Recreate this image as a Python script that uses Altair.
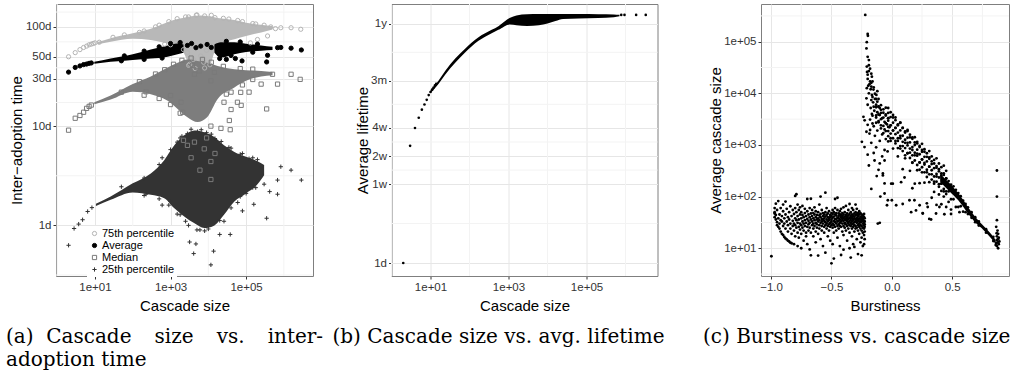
import altair as alt
import pandas as pd

FONT = "Liberation Sans"
SERIF = "DejaVu Serif"
NB = "\u00a0"
TH = "\u2009"
ZW = "\u200b"

# ---------------- (a) Cascade size vs. inter-adoption time ----------------
A_SERIES = ["75th percentile", "Average", "Median", "25th percentile"]
A_STROKES = ["#b4b4b4", "#000000", "#7a7a7a", "#333333"]
A_FILLS = ["transparent", "#000000", "transparent", "transparent"]
A_SHAPES = ["circle", "circle", "square", "M-1,0H1M0,-1V1"]
A_CORE_COLORS = {"75th percentile": "#b8b8b8", "Average": "#000000",
                 "Median": "#7d7d7d", "25th percentile": "#333333"}
A_X_TICKS = [10, 1000, 100000]
A_X_MINOR = [1, 100, 10000, 1000000]
A_Y_TICKS = [1, 10, 30, 50, 100]
A_Y_MINOR = [0.316, 3.16, 17.3, 38.7, 70.7, 141]
A_X_DOM = [0.93, 5.9e6]
A_Y_DOM = [0.309, 170]

# dense cores: cascade size, lower / upper inter-adoption time (days)
P75_CORE_X = [11.8, 26, 100, 300, 680, 1260, 2100, 3500, 6300, 10500, 17700, 49000, 100000, 250000, 500000]
P75_CORE_LO = [67, 71, 76, 73.6, 69, 65, 57, 39, 37, 40, 66, 75, 81, 88, 94]
P75_CORE_HI = [70.3, 77, 86, 95.5, 108, 118, 123, 128, 130, 128, 123, 117, 110, 105, 102]

MED_CORE_X = [9.6, 26, 100, 300, 840, 1540, 2800, 5200, 9300, 17700, 49000, 100000, 250000, 500000]
MED_CORE_LO = [16.6, 18.5, 22.2, 21, 18, 14.9, 12.3, 11, 12.3, 18.8, 24.5, 28.6, 31.6, 32.6]
MED_CORE_HI = [17.4, 20.3, 26.5, 31.6, 38.9, 43.6, 47, 45.4, 43.6, 40.4, 37.4, 36.6, 36, 35.2]

AVG_CORE_X = [9.6, 26, 100, 300, 840, 1540, 2200, 14500, 21600, 49000, 100000, 250000, 500000]
AVG_CORE_LO = [42.4, 44.4, 46.4, 47.9, 50, 53, 55, 55, 49, 53, 55.8, 57.6, 58.5]
AVG_CORE_HI = [44.4, 47.9, 52.9, 59.3, 65, 68, 66.6, 66.6, 70, 70, 67.6, 65, 63]
AVG_CORE_SEG = [0, 0, 0, 0, 0, 0, 0, 1, 1, 1, 1, 1, 1]

P25_CORE_X = [10.6, 26, 100, 300, 680, 1260, 2300, 4300, 7800, 14500, 26000, 49000, 100000, 200000, 300000]
P25_CORE_LO = [1.57, 1.81, 2.15, 2.03, 1.88, 1.49, 1.23, 1.05, 0.94, 1.0, 1.28, 1.74, 2.1, 2.6, 3.2]
P25_CORE_HI = [1.65, 1.95, 2.65, 3.34, 4.54, 6.4, 8.07, 9.05, 8.7, 7.76, 6.4, 5.5, 4.9, 4.43, 4.05]

# individual points (cascade size, days)
P75_PTS = [(2, 50), (3, 55), (4, 59), (5, 62), (6, 64), (7, 66), (8, 67), (9, 68), (10, 69), (13, 70),
           (830000, 98), (1550000, 98), (2800000, 94.6), (370000, 81), (200000, 74.6), (130000, 69),
           (600000, 96), (450000, 100), (2200, 59), (2800, 55), (6300, 51), (4000, 47), (7500, 44),
           (9000, 58), (3200, 42), (5600, 62), (4800, 131), (8000, 129), (3000, 126), (15000, 124),
           (60000, 116), (150000, 108),
           (30, 78.5), (60, 83), (150, 88), (200, 91), (400, 100), (500, 104), (900, 113), (1500, 121),
           (2500, 126), (5000, 132), (12000, 131), (25000, 122), (35000, 120), (80000, 113),
           (180000, 107), (300000, 104), (700, 67), (1000, 66), (4500, 38), (8000, 38.5), (3000, 41),
           (11000, 41.5)]
AVG_PTS = [(2, 35), (3, 39), (4, 40.4), (5, 41.7), (6, 42.2), (7, 42.9), (8, 43.3),
           (350000, 44.3), (370000, 51.7), (78000, 45.4), (680000, 61.7), (830000, 62), (1550000, 61),
           (2900000, 58.5), (6300, 64), (9300, 66.5), (4700, 61.7), (2800, 65), (12000, 62), (3600, 68),
           (52000, 48), (30000, 47),
           (60, 51), (200, 57), (500, 63), (1000, 68), (1800, 69.5), (30000, 71.5), (70000, 70.5),
           (200000, 67), (50, 45.5), (200, 47), (600, 48.5), (20000, 48), (40000, 51.5), (150000, 55.5)]
MED_PTS = [(2, 9.1), (3, 12), (4, 12.8), (5, 13.8), (6, 15.1), (7, 15.8), (8, 16.3),
           (500000, 33.3), (1550000, 33.3), (2700000, 29.6), (680000, 26.5), (350000, 14.9), (250000, 26.5),
           (74000, 16.2), (40000, 22), (120000, 22), (36000, 11.4), (14500, 34.8), (4300, 33.3), (5700, 36),
           (11700, 28.6), (26000, 17.4), (38000, 9.2), (11700, 10), (21600, 9.5), (3800, 41), (225, 22.2),
           (1000, 20.3), (1900, 17.4), (2100, 13.8), (59000, 17.4), (40000, 14.7), (72000, 21.9),
           (50, 22), (150, 28), (400, 33.5), (700, 37), (1200, 42), (2000, 46), (3500, 48.5), (7000, 47),
           (12000, 44), (25000, 40), (70000, 38), (150000, 37.5), (200, 20.5), (500, 19), (1000, 16.5),
           (1800, 13.5), (30000, 21), (80000, 26), (150000, 29.5)]
P25_PTS = [(2, 0.63), (2.8, 0.93), (3.7, 1.03), (4.7, 1.14), (6.4, 1.38), (8.3, 1.51),
           (1550000, 3.6), (2900000, 2.86), (830000, 3.9), (680000, 2.86), (420000, 2.19), (680000, 2.06),
           (350000, 1.18), (160000, 1.63), (80000, 1.4), (38000, 0.81), (20000, 0.81), (13800, 0.55),
           (11700, 0.40), (4100, 0.52), (3200, 0.68), (4700, 0.65), (225, 2.06), (1000, 1.74),
           (2800, 8.4), (5200, 8.8), (9000, 8.6), (2000, 7.9), (15000, 7.5), (40000, 6.0), (70000, 5.2),
           (120000, 4.7), (200000, 4.6), (250000, 3.9), (100000, 2.1), (60000, 1.7), (180000, 2.4),
           (300000, 2.6), (26000, 1.1), (8000, 0.88), (5000, 0.9), (2500, 1.1), (1500, 1.3), (600, 1.6),
           (600, 4.8), (1500, 6.9),
           (50, 2.45), (200, 3.0), (500, 4.1), (1000, 5.8), (1800, 7.6), (3500, 9.3), (6500, 9.2),
           (12000, 8.3), (22000, 7.0), (35000, 6.1), (80000, 5.3), (150000, 4.8), (200, 2.0), (500, 1.85),
           (900, 1.6), (1800, 1.28), (3000, 1.0), (6000, 0.9), (10000, 0.92), (20000, 1.12), (40000, 1.5),
           (70000, 1.95), (150000, 2.4)]
MED_IN_CLOUD = [(4300, 6.9), (11700, 4.4), (11700, 2.9), (7800, 5.9), (2800, 6.4), (2200, 7.2),
                (6000, 3.6), (3500, 4.8), (9000, 7.6), (15000, 5.3)]

# ---------------- (b) Cascade size vs. avg. lifetime ----------------
B_PTS = [(2, 1), (3, 18), (4, 28), (5, 36), (6, 44), (7, 50), (8, 56), (9, 63), (10, 68), (11, 72),
         (12, 76), (13, 80), (14, 83), (776000, 455), (940000, 455), (1870000, 455), (3300000, 455)]
B_CORE_X = [10, 16, 24, 43, 77, 170, 370, 550, 1100, 1600, 3000, 6000, 10000, 16000, 25000, 63000,
            200000, 500000, 700000]
B_CORE_LO = [66, 83, 105, 140, 180, 240, 290, 315, 360, 352, 347, 352, 368, 392, 412, 418, 422, 430, 440]
B_CORE_HI = [71, 90, 115, 155, 198, 262, 315, 345, 425, 450, 462, 465, 465, 465, 465, 465, 463, 460, 456]
B_X_TICKS = [10, 1000, 100000]
B_X_MINOR = [1, 100, 10000, 1000000]
B_Y_TICKS = [1, 7, 14, 28, 90, 365]
B_Y_MINOR = [2.65, 9.9, 19.8, 50.2, 181]
B_X_DOM = [1, 6.6e6]
B_Y_DOM = [0.726, 596]

# ---------------- (c) Burstiness vs. cascade size ----------------
C_LEFT_COLS = [
    (-0.997, [7]), (-0.97, [60, 47, 40, 50]), (-0.96, [73, 36, 44]), (-0.95, [32, 55, 28]),
    (-0.94, [26, 38, 82]), (-0.93, [24, 45, 30]), (-0.92, [21, 60, 35]), (-0.91, [19, 33, 42]),
    (-0.90, [18, 27, 52, 70]), (-0.89, [16.5, 38, 30]), (-0.88, [15.5, 24, 45, 80]),
    (-0.87, [14.8, 33, 58]), (-0.86, [14, 28, 40, 21]), (-0.85, [13.5, 50, 36]),
    (-0.84, [12.8, 30, 24, 65]), (-0.83, [12.5, 42, 19]), (-0.82, [34, 27, 55]),
    (-0.81, [12, 22, 46, 30]), (-0.80, [103, 38, 17, 60, 28]), (-0.79, [111, 25, 50, 35]),
    (-0.78, [11, 31, 70, 20, 42]), (-0.77, [26, 55, 36, 16]), (-0.76, [45, 30, 23, 62]),
    (-0.75, [10, 38, 28, 50, 19]), (-0.74, [33, 66, 25, 44]), (-0.73, [14, 40, 30, 22]),
    (-0.72, [48, 35, 27, 58]), (-0.71, [20, 31, 42, 17]), (-0.70, [12, 37, 52, 26, 90]),
    (-0.69, [45, 29, 34, 22]), (-0.68, [9.5, 40, 60, 25, 31]), (-0.67, [91, 7.3, 36, 47, 20]),
    (-0.66, [28, 42, 33, 55]), (-0.65, [17, 38, 24, 30, 48]), (-0.64, [45, 27, 35, 62]),
    (-0.63, [21, 40, 31, 52, 13]), (-0.62, [29, 36, 44, 25]), (-0.61, [7.2, 33, 50, 38, 19]),
    (-0.60, [43, 28, 35, 70, 24]), (-0.59, [100, 31, 40, 46, 15]), (-0.58, [27, 37, 55, 22, 33]),
    (-0.57, [11, 42, 30, 36, 48]), (-0.56, [26, 38, 45, 20, 34]), (-0.55, [8.2, 119, 32, 41, 50, 28]),
    (-0.54, [24, 36, 44, 30, 60]), (-0.53, [17, 40, 33, 27, 47]), (-0.52, [38, 29, 52, 22, 35]),
    (-0.51, [31, 44, 26, 40, 14]), (-0.50, [5.1, 36, 48, 28, 42, 33]), (-0.49, [12, 39, 25, 46, 30, 55]),
    (-0.48, [6.3, 34, 41, 28, 20, 50]), (-0.47, [37, 45, 32, 26, 90, 60]), (-0.46, [30, 43, 36, 22, 48]),
    (-0.45, [95, 39, 27, 33, 55, 16]), (-0.44, [34, 42, 29, 47, 24, 38]), (-0.43, [11, 36, 31, 45, 27, 52]),
    (-0.42, [7.4, 40, 33, 26, 44, 58]), (-0.41, [30, 38, 48, 21, 35, 42]),
    (-0.40, [9.4, 34, 27, 45, 39, 62, 18]), (-0.39, [41, 31, 36, 25, 50, 30]),
    (-0.38, [29, 44, 35, 22, 38, 66]), (-0.37, [14, 33, 40, 27, 47, 36]),
    (-0.36, [37, 30, 43, 24, 55, 32]), (-0.35, [10, 39, 28, 46, 34, 20, 72]),
    (-0.34, [6.6, 35, 42, 27, 31, 50, 38]), (-0.33, [33, 40, 24, 45, 29, 60, 17]),
    (-0.32, [12, 37, 30, 43, 26, 35, 55]), (-0.31, [10.6, 32, 41, 28, 47, 21, 38]),
    (-0.30, [36, 27, 44, 33, 50, 24, 70]), (-0.29, [15, 31, 39, 25, 45, 35, 58]),
    (-0.28, [7.7, 34, 42, 28, 22, 48, 37]), (-0.27, [30, 38, 26, 45, 33, 19, 52]),
    (-0.26, [13, 36, 28, 41, 24, 48, 32]), (-0.25, [7.3, 33, 40, 27, 22, 45, 36, 16]),
    (-0.24, [30, 38, 25, 43, 20, 35, 11]), (-0.23, [12, 34, 28, 40, 24, 31, 46, 18]),
    (-0.225, [26, 33, 21, 38, 15, 29]),
]
# dense diagonal band, read column by column (burstiness, cascade sizes)
C_BAND_COLS = [
    (-0.13, [7760, 5370, 3720, 2690]), (-0.11, [5500, 3890, 2750, 7760]),
    (-0.09, [5890, 4170, 3160, 2090]), (-0.07, [4900, 3390, 2340, 1700]),
    (-0.05, [3720, 2630, 1860, 5250]), (-0.03, [4170, 2950, 2240, 1480]),
    (-0.01, [3470, 2400, 1660, 1200]), (0.01, [2690, 1910, 1350, 3800]),
    (0.03, [3020, 2140, 1620, 1070]), (0.05, [2510, 1740, 1200, 870]),
    (0.07, [1910, 1350, 950, 2690]), (0.09, [2140, 1510, 1150, 760]),
    (0.11, [1820, 1260, 870, 630]), (0.13, [1380, 980, 690, 1950]),
    (0.15, [1580, 1120, 850, 560]), (0.17, [1320, 910, 630, 457]),
    (0.19, [1000, 710, 500, 1410]), (0.21, [1150, 810, 620, 410]),
    (0.23, [955, 660, 457, 331]), (0.25, [740, 525, 370, 1050]),
    (0.27, [830, 590, 447, 295]), (0.29, [690, 480, 331, 240]),
    (0.31, [540, 380, 270, 760]), (0.33, [600, 427, 324, 214]),
    (0.35, [513, 355, 245, 178]), (0.37, [390, 275, 195, 550]),
    (0.39, [437, 309, 234, 155]), (0.41, [372, 257, 178, 129]),
    (0.43, [282, 200, 141, 398]), (0.45, [316, 224, 170, 112]),
]
C_RIGHT_PTS = [
    (-0.22, 330000), (-0.20, 141000), (-0.198, 130000), (-0.207, 98000), (-0.21, 74000), (-0.2, 51000),
    (-0.19, 44000), (-0.19, 35000), (-0.207, 33000), (-0.18, 30000), (-0.205, 26000), (-0.17, 24000),
    (-0.2, 19000), (-0.165, 21000), (-0.18, 17000), (-0.16, 17000), (-0.207, 12600), (-0.17, 13500),
    (-0.152, 11800), (-0.19, 10000), (-0.165, 9300), (-0.128, 9300), (-0.21, 8000), (-0.17, 7400),
    (-0.12, 6900), (-0.2, 6000), (-0.15, 5500), (-0.1, 5200), (-0.235, 3500), (-0.225, 3000),
    (-0.2, 2450), (-0.21, 1800), (-0.18, 1950), (-0.16, 2600), (-0.248, 1150), (-0.226, 910),
    (-0.185, 1660), (-0.143, 500), (-0.1, 440), (-0.17, 141), (-0.074, 280), (-0.005, 178), (0.0, 85),
    (-0.04, 68), (-0.1, 31), (0.077, 190), (0.146, 85), (0.256, 47), (0.2, 54), (0.31, 37),
    (-0.19, 27000), (-0.2, 23000), (-0.185, 15000), (-0.175, 12000), (-0.195, 14000), (-0.16, 8500),
    (-0.14, 7800), (-0.155, 6700), (-0.13, 6000), (-0.175, 5200), (-0.11, 5600), (-0.145, 4600),
    (-0.12, 4300), (-0.09, 4800), (-0.165, 4000), (-0.1, 3800), (-0.07, 4200), (-0.13, 3400),
    (-0.08, 3300), (-0.05, 3900), (-0.18, 3100), (-0.11, 2900), (-0.06, 2800), (-0.03, 3300),
    (-0.15, 2300), (-0.09, 2400), (-0.04, 2500), (-0.12, 1900), (-0.06, 2000), (-0.02, 2200),
    (-0.14, 1500), (-0.08, 1600), (-0.1, 1200), (-0.05, 1300), (-0.17, 1100), (-0.13, 900),
    (-0.06, 800), (-0.2, 650), (-0.15, 700), (-0.11, 330), (-0.08, 600), (-0.035, 750), (-0.125, 250),
    (-0.06, 180), (-0.095, 100), (-0.19, 400), (-0.16, 3700), (-0.14, 9800), (-0.12, 11000),
    (-0.17, 16000), (-0.15, 13000),
    (-0.03, 5200), (-0.03, 3300), (-0.03, 1860), (-0.03, 1170), (-0.01, 4300), (-0.01, 2400),
    (-0.01, 1350), (0.01, 3400), (0.01, 1900), (0.01, 850), (0.03, 3400), (0.03, 2140), (0.03, 1200),
    (0.05, 2400), (0.05, 1350), (0.05, 600), (0.07, 2700), (0.07, 1500), (0.07, 850), (0.09, 2140),
    (0.09, 950), (0.09, 340), (0.11, 1740), (0.11, 1100), (0.11, 550), (0.13, 1860), (0.13, 1100),
    (0.13, 690), (0.15, 1400), (0.15, 710), (0.15, 316), (0.17, 1400), (0.17, 800), (0.17, 450),
    (0.19, 1120), (0.19, 630), (0.19, 178), (0.21, 1070), (0.21, 680), (0.21, 324), (0.23, 910),
    (0.23, 457), (0.23, 182), (0.25, 800), (0.25, 525), (0.25, 295), (0.27, 740), (0.27, 417),
    (0.27, 186), (0.29, 590), (0.29, 295), (0.29, 74), (0.31, 575), (0.31, 380), (0.31, 190),
    (0.33, 480), (0.33, 270), (0.33, 95), (0.35, 437), (0.35, 195), (0.35, 123), (0.37, 363),
    (0.37, 245), (0.37, 69), (0.39, 340), (0.39, 174), (0.39, 110), (0.41, 282), (0.41, 178),
    (0.41, 71), (0.43, 263), (0.43, 126), (0.43, 100), (0.45, 224), (0.45, 126), (0.45, 63),
    (0.47, 200), (0.47, 126), (0.47, 79), (0.49, 170), (0.49, 89), (0.49, 56), (0.51, 158),
    (0.51, 89), (0.53, 135), (0.53, 63), (0.55, 117), (0.55, 63), (0.57, 102), (0.57, 65), (0.59, 83),
    (0.59, 51), (0.61, 72), (0.61, 50), (0.63, 62), (0.63, 46), (0.66, 50), (0.66, 39), (0.69, 40),
    (0.69, 32), (0.72, 33), (0.72, 27.5), (0.78, 23.4), (0.78, 20), (0.84, 16.6), (0.84, 13.8),
    (0.87, 320), (0.87, 100), (0.875, 22), (0.88, 19), (0.87, 17), (0.88, 15), (0.875, 13),
    (0.885, 12), (0.87, 11), (0.88, 10), (0.865, 12.5), (0.885, 16), (0.89, 13.5), (0.86, 11.5),
    (0.87, 14.5), (0.87, 35), (0.864, 26), (0.868, 19.5),
    (-0.116, 30), (-0.06, 500), (-0.074, 257), (-0.06, 115), (-0.033, 85), (0.008, 178), (0.036, 68),
    (0.09, 72), (0.105, 234), (0.16, 50), (0.187, 85), (0.17, 145), (0.23, 68), (0.256, 48),
    (0.297, 63), (0.325, 36), (0.366, 47), (0.394, 63), (0.435, 45.5), (0.49, 46), (0.56, 50),
]
C_CORE_X = [0.40, 0.47, 0.55, 0.62, 0.70, 0.76, 0.82, 0.86]
C_CORE_LO = [195, 132, 85, 51, 30, 22.4, 15.8, 12]
C_CORE_HI = [275, 190, 117, 68, 38, 27, 19, 14.5]
C_X_TICKS = [-1.0, -0.5, 0.0, 0.5]
C_X_MINOR = [-0.75, -0.25, 0.25, 0.75]
C_Y_TICKS = [10, 100, 1000, 10000, 100000]
C_Y_MINOR = [3.16, 31.6, 316, 3160, 31600, 316000]
C_X_DOM = [-1.083, 0.97]
C_Y_DOM = [2.9, 537000]

# ---------------- captions ----------------
CAPTION_A = ["(a)" + NB * 2 + "Cascade" + NB * 3 + TH + "size" + NB * 3 + TH + "vs." + NB * 3 + TH + "inter-",
             "adoption time"]
CAPTION_B = ["(b) Cascade size vs. avg. lifetime" + NB * 4 + TH + ZW]
CAPTION_C = ["(c) Burstiness vs. cascade size"]

# ---------------- helpers ----------------
LOG_LABEL = "'1e+0' + format(log(datum.value) / LN10, '.0f')"
MINOR_GRID = "#f3f3f3"


def axis(title, values, label_expr, title_pad, **kw):
    return alt.Axis(title=title, values=values, labelExpr=label_expr, titlePadding=title_pad, **kw)


def minor_rules(values, enc_x=None, enc_y=None):
    df = pd.DataFrame({"v": values})
    if enc_x is not None:
        return alt.Chart(df).mark_rule(color=MINOR_GRID, strokeWidth=1).encode(x=enc_x)
    return alt.Chart(df).mark_rule(color=MINOR_GRID, strokeWidth=1).encode(y=enc_y)


def caption(text, dx):
    return alt.TitleParams(text=text, orient="bottom", anchor="start", frame="group", dx=dx,
                           offset=13, font=SERIF, fontSize=20, fontWeight="normal", lineHeight=23,
                           color="#000")


# ---------------- panel (a) ----------------
a_xscale = alt.Scale(type="log", domain=A_X_DOM, nice=False)
a_yscale = alt.Scale(type="log", domain=A_Y_DOM, nice=False)
a_xaxis = axis("Cascade size", A_X_TICKS, LOG_LABEL, 6)
a_yaxis = axis("Inter\u2212adoption time", A_Y_TICKS, "datum.value + 'd'", 1)


def core_layer(xs, los, his, series, segs=None):
    df = pd.DataFrame({"x": xs, "lo": los, "hi": his, "seg": segs if segs else [0] * len(xs)})
    return alt.Chart(df).mark_area(color=A_CORE_COLORS[series], opacity=1, interpolate="monotone").encode(
        x=alt.X("x:Q", scale=a_xscale, axis=a_xaxis),
        y=alt.Y("lo:Q", scale=a_yscale, axis=a_yaxis),
        y2="hi:Q",
        detail="seg:N",
    )


rows = []
for name, pts in [("75th percentile", P75_PTS), ("Average", AVG_PTS),
                  ("25th percentile", P25_PTS), ("Median", MED_PTS), ("Median", MED_IN_CLOUD)]:
    for x, y in pts:
        rows.append({"x": x, "y": y, "series": name})
a_pts_df = pd.DataFrame(rows)

a_legend = alt.Legend(title=None, orient="none", legendX=31, legendY=222, labelFont=FONT,
                      labelFontSize=11, labelColor="#000", symbolSize=18, symbolStrokeWidth=1,
                      rowPadding=0, labelOffset=2, fillColor="white", padding=2)

a_points = alt.Chart(a_pts_df).mark_point(opacity=1, strokeWidth=1, size=18).encode(
    x=alt.X("x:Q", scale=a_xscale, axis=a_xaxis),
    y=alt.Y("y:Q", scale=a_yscale, axis=a_yaxis),
    shape=alt.Shape("series:N", scale=alt.Scale(domain=A_SERIES, range=A_SHAPES), legend=a_legend),
    fill=alt.Fill("series:N", scale=alt.Scale(domain=A_SERIES, range=A_FILLS), legend=a_legend),
    stroke=alt.Stroke("series:N", scale=alt.Scale(domain=A_SERIES, range=A_STROKES), legend=a_legend),
)

panel_a = alt.layer(
    minor_rules(A_X_MINOR, enc_x=alt.X("v:Q", scale=a_xscale, axis=a_xaxis)),
    minor_rules(A_Y_MINOR, enc_y=alt.Y("v:Q", scale=a_yscale, axis=a_yaxis)),
    core_layer(P75_CORE_X, P75_CORE_LO, P75_CORE_HI, "75th percentile"),
    core_layer(MED_CORE_X, MED_CORE_LO, MED_CORE_HI, "Median"),
    core_layer(AVG_CORE_X, AVG_CORE_LO, AVG_CORE_HI, "Average", AVG_CORE_SEG),
    core_layer(P25_CORE_X, P25_CORE_LO, P25_CORE_HI, "25th percentile"),
    a_points,
).properties(width=257, height=272, title=caption(CAPTION_A, -50))

# ---------------- panel (b) ----------------
b_xscale = alt.Scale(type="log", domain=B_X_DOM, nice=False)
b_yscale = alt.Scale(type="log", domain=B_Y_DOM, nice=False)
b_xaxis = axis("Cascade size", B_X_TICKS, LOG_LABEL, 6)
B_LABEL = ("datum.value == 1 ? '1d' : datum.value == 7 ? '1w' : datum.value == 14 ? '2w' : "
           "datum.value == 28 ? '4w' : datum.value == 90 ? '3m' : '1y'")
b_yaxis = axis("Average lifetime", B_Y_TICKS, B_LABEL, 0)

b_core = alt.Chart(pd.DataFrame({"x": B_CORE_X, "lo": B_CORE_LO, "hi": B_CORE_HI})).mark_area(
    color="black", opacity=1, interpolate="monotone").encode(
    x=alt.X("x:Q", scale=b_xscale, axis=b_xaxis),
    y=alt.Y("lo:Q", scale=b_yscale, axis=b_yaxis),
    y2="hi:Q",
)
b_points = alt.Chart(pd.DataFrame(B_PTS, columns=["x", "y"])).mark_circle(
    color="black", opacity=1, size=7).encode(
    x=alt.X("x:Q", scale=b_xscale, axis=b_xaxis),
    y=alt.Y("y:Q", scale=b_yscale, axis=b_yaxis),
)
panel_b = alt.layer(
    minor_rules(B_X_MINOR, enc_x=alt.X("v:Q", scale=b_xscale, axis=b_xaxis)),
    minor_rules(B_Y_MINOR, enc_y=alt.Y("v:Q", scale=b_yscale, axis=b_yaxis)),
    b_core, b_points,
).properties(width=266, height=272, title=caption(CAPTION_B, -59))

# ---------------- panel (c) ----------------
c_rows = [{"x": x, "y": y} for x, ys in C_LEFT_COLS + C_BAND_COLS for y in ys] + \
         [{"x": x, "y": y} for x, y in C_RIGHT_PTS]
c_xscale = alt.Scale(domain=C_X_DOM, nice=False, zero=False)
c_yscale = alt.Scale(type="log", domain=C_Y_DOM, nice=False)
c_xaxis = axis("Burstiness", C_X_TICKS, "replace(format(datum.value, '.1f'), '-', '\u2212')", 6)
c_yaxis = axis("Average cascade size", C_Y_TICKS, LOG_LABEL, 0)

c_core = alt.Chart(pd.DataFrame({"x": C_CORE_X, "lo": C_CORE_LO, "hi": C_CORE_HI})).mark_area(
    color="black", opacity=1, interpolate="monotone").encode(
    x=alt.X("x:Q", scale=c_xscale, axis=c_xaxis),
    y=alt.Y("lo:Q", scale=c_yscale, axis=c_yaxis),
    y2="hi:Q",
)
c_points = alt.Chart(pd.DataFrame(c_rows)).mark_circle(color="black", opacity=1, size=8).encode(
    x=alt.X("x:Q", scale=c_xscale, axis=c_xaxis),
    y=alt.Y("y:Q", scale=c_yscale, axis=c_yaxis),
)
panel_c = alt.layer(
    minor_rules(C_X_MINOR, enc_x=alt.X("v:Q", scale=c_xscale, axis=c_xaxis)),
    minor_rules(C_Y_MINOR, enc_y=alt.Y("v:Q", scale=c_yscale, axis=c_yaxis)),
    c_core, c_points,
).properties(width=248, height=272, title=caption(CAPTION_C, -58))

chart = alt.hconcat(panel_a, panel_b, panel_c, spacing=7.5).properties(
    padding={"left": 5, "top": 3, "right": 0, "bottom": 0},
).configure_view(
    stroke="#7f7f7f", strokeWidth=1,
).configure_axis(
    labelFont=FONT, titleFont=FONT, labelFontSize=11.5, titleFontSize=15, labelColor="#333333",
    titleColor="#000000", titleFontWeight="normal", tickColor="#333333", tickSize=3, domain=False,
    gridColor="#e6e6e6", gridWidth=1, labelPadding=2,
)

chart.save("out.html", embed_options={"renderer": "svg", "actions": False})
